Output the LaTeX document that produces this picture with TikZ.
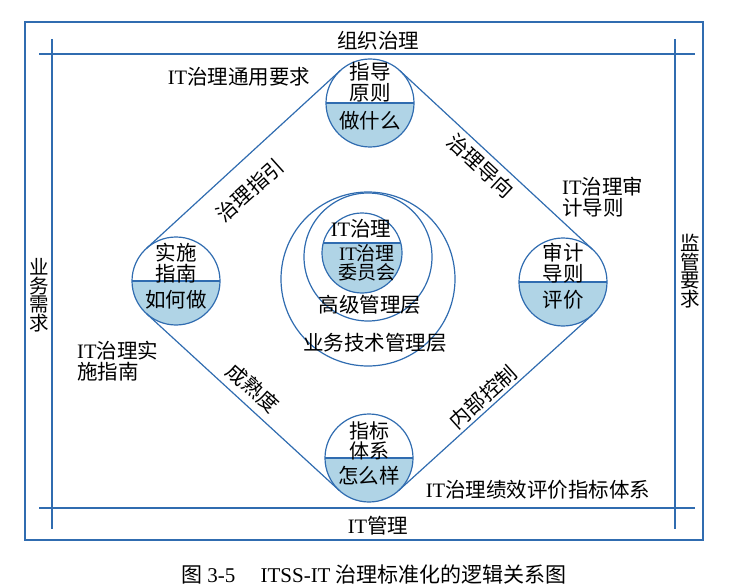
\documentclass[tikz,border=0pt]{standalone}
\usepackage{fontspec}
\setmainfont{Liberation Serif}
\newfontfamily\cjk{Noto Sans CJK SC}
\usepackage{tikz}
\usepackage{xcolor}
\usetikzlibrary{calc}
\definecolor{lineblue}{RGB}{48,108,176}
\definecolor{fillblue}{RGB}{176,212,230}
\newcommand{\ittxt}{{\rmfamily IT}}
\newcommand{\rr}{44pt}
\tikzstyle{txt} = [font=\cjk\fontsize{20.5}{21}\selectfont, align=center, inner sep=0pt]
\tikzstyle{edge} = [draw=lineblue, line width=1.2pt]
\tikzstyle{ring} = [circle, draw=lineblue, line width=1.2pt, inner sep=0pt]
\tikzset{half/.style={circle, draw=lineblue, line width=1.2pt, inner sep=0pt, minimum size=88pt,
  path picture={\fill[fillblue] ([yshift=#1]path picture bounding box.west) rectangle (path picture bounding box.south east);
  \draw[lineblue, line width=1.2pt] ([yshift=#1]path picture bounding box.west) -- ([yshift=#1]path picture bounding box.east);}},
  half/.default=0pt}

\begin{document}
\begin{tikzpicture}[x=1pt, y=-1pt]
\useasboundingbox (0,0) rectangle (733,588);
% frame
\draw[lineblue, line width=1.4pt] (25,22) rectangle (703,540);
\draw[edge] (39,54) -- (695,54);
\draw[edge] (39,508) -- (695,508);
\draw[edge] (52,39) -- (52,529);
\draw[edge] (675,39) -- (675,529);
\node (org) [txt] at (378,41) {组织治理};
\node (itm) [txt] at (378,526) {\ittxt 管理};
\node (biz) [txt, font=\cjk\fontsize{19.5}{18.5}\selectfont] at (39,295) {业\\务\\需\\求};
\node (reg) [txt, font=\cjk\fontsize{19.5}{18.5}\selectfont] at (690,271) {监\\管\\要\\求};

% central circles
\node (tech) [ring, minimum size=174pt] at (368,279) {};
\node (senior) [ring, minimum size=128pt] at (368,257) {};
\node (board) [half=10pt, minimum size=80pt] at (362,253) {};
\node (boardtop) [txt] at (361,229) {\ittxt 治理};
\node (boardbot) [txt, font=\cjk\fontsize{19}{17}\selectfont] at (367,263) {\ittxt 治理\\委员会};
\node (seniortxt) [txt] at (370,305) {高级管理层};
\node (techtxt) [txt] at (375,343) {业务技术管理层};

% four circles
\node (guide) [half] at (370,103) {};
\node (impl) [half] at (176,281) {};
\node (audit) [half] at (563,282) {};
\node (metric) [half] at (369,458) {};
\node [txt] at (370,82) {指导\\原则};
\node [txt] at (370,121) {做什么};
\node [txt] at (176,263) {实施\\指南};
\node [txt] at (176,300) {如何做};
\node [txt] at (563,263) {审计\\导则};
\node [txt] at (563,300) {评价};
\node [txt, font=\cjk\fontsize{20}{18}\selectfont] at (369,441) {指标\\体系};
\node [txt] at (369,476) {怎么样};

% diamond
\draw[edge] ($(guide)!\rr!-90:(impl)$) -- ($(impl)!\rr!90:(guide)$);
\draw[edge] ($(impl)!\rr!-90:(metric)$) -- ($(metric)!\rr!90:(impl)$);
\draw[edge] ($(metric)!\rr!-90:(audit)$) -- ($(audit)!\rr!90:(metric)$);
\draw[edge] ($(audit)!\rr!-90:(guide)$) -- ($(guide)!\rr!90:(audit)$);

% labels
\node (lead) [txt, rotate=42] at (250,190) {治理指引};
\node (orient) [txt, rotate=-43] at (481,166) {治理导向};
\node (mature) [txt, rotate=-42] at (253,388) {成熟度};
\node (ctrl) [txt, rotate=42] at (483,397) {内部控制};
\node (general) [txt] at (239,77) {\ittxt 治理通用要求};
\node (auditstd) [txt, align=left, anchor=west] at (562,197) {\ittxt 治理审\\计导则};
\node (implstd) [txt, align=left, anchor=west] at (77,361) {\ittxt 治理实\\施指南};
\node (perf) [txt] at (538,490) {\ittxt 治理绩效评价指标体系};
\node (caption) [txt, font=\cjk\fontsize{21}{21}\selectfont] at (374,574) {图 {\rmfamily 3-5}\hspace{1.2em}{\rmfamily ITSS-IT} 治理标准化的逻辑关系图};
\end{tikzpicture}
\end{document}
